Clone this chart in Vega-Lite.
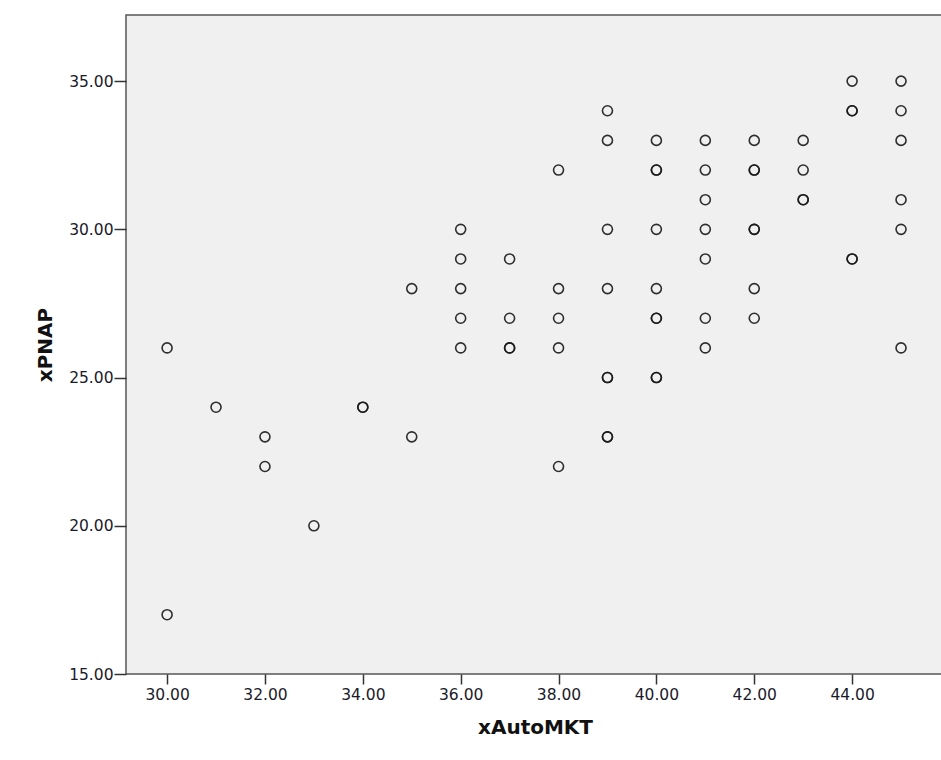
{
  "$schema": "https://vega.github.io/schema/vega-lite/v6.json",
  "autosize": {"type": "none"},
  "width": 818,
  "height": 659,
  "padding": {"left": 126, "top": 15, "right": 0, "bottom": 86},
  "background": "white",
  "config": {
    "view": {"fill": "#f0f0f0", "stroke": "#555555", "strokeWidth": 1.5},
    "font": "DejaVu Sans",
    "axis": {
      "grid": false,
      "domain": false,
      "tickColor": "#333333",
      "tickWidth": 1.5,
      "tickSize": 10,
      "labelFont": "DejaVu Sans",
      "labelFontSize": 15.5,
      "labelColor": "#1a1a2a",
      "titleFont": "DejaVu Sans",
      "titleFontSize": 20,
      "titleFontWeight": "bold",
      "titleColor": "#111111"
    }
  },
  "data": {
    "values": [
      {"xAutoMKT": 30, "xPNAP": 26}, {"xAutoMKT": 30, "xPNAP": 17},
      {"xAutoMKT": 31, "xPNAP": 24},
      {"xAutoMKT": 32, "xPNAP": 23}, {"xAutoMKT": 32, "xPNAP": 22},
      {"xAutoMKT": 33, "xPNAP": 20},
      {"xAutoMKT": 34, "xPNAP": 24}, {"xAutoMKT": 34, "xPNAP": 24},
      {"xAutoMKT": 35, "xPNAP": 28}, {"xAutoMKT": 35, "xPNAP": 23},
      {"xAutoMKT": 36, "xPNAP": 30}, {"xAutoMKT": 36, "xPNAP": 29}, {"xAutoMKT": 36, "xPNAP": 28}, {"xAutoMKT": 36, "xPNAP": 27}, {"xAutoMKT": 36, "xPNAP": 26},
      {"xAutoMKT": 37, "xPNAP": 29}, {"xAutoMKT": 37, "xPNAP": 27}, {"xAutoMKT": 37, "xPNAP": 26}, {"xAutoMKT": 37, "xPNAP": 26},
      {"xAutoMKT": 38, "xPNAP": 32}, {"xAutoMKT": 38, "xPNAP": 28}, {"xAutoMKT": 38, "xPNAP": 27}, {"xAutoMKT": 38, "xPNAP": 26}, {"xAutoMKT": 38, "xPNAP": 22},
      {"xAutoMKT": 39, "xPNAP": 34}, {"xAutoMKT": 39, "xPNAP": 33}, {"xAutoMKT": 39, "xPNAP": 30}, {"xAutoMKT": 39, "xPNAP": 28}, {"xAutoMKT": 39, "xPNAP": 25}, {"xAutoMKT": 39, "xPNAP": 25}, {"xAutoMKT": 39, "xPNAP": 23}, {"xAutoMKT": 39, "xPNAP": 23},
      {"xAutoMKT": 40, "xPNAP": 33}, {"xAutoMKT": 40, "xPNAP": 32}, {"xAutoMKT": 40, "xPNAP": 32}, {"xAutoMKT": 40, "xPNAP": 30}, {"xAutoMKT": 40, "xPNAP": 28}, {"xAutoMKT": 40, "xPNAP": 27}, {"xAutoMKT": 40, "xPNAP": 27}, {"xAutoMKT": 40, "xPNAP": 25}, {"xAutoMKT": 40, "xPNAP": 25},
      {"xAutoMKT": 41, "xPNAP": 33}, {"xAutoMKT": 41, "xPNAP": 32}, {"xAutoMKT": 41, "xPNAP": 31}, {"xAutoMKT": 41, "xPNAP": 30}, {"xAutoMKT": 41, "xPNAP": 29}, {"xAutoMKT": 41, "xPNAP": 27}, {"xAutoMKT": 41, "xPNAP": 26},
      {"xAutoMKT": 42, "xPNAP": 33}, {"xAutoMKT": 42, "xPNAP": 32}, {"xAutoMKT": 42, "xPNAP": 32}, {"xAutoMKT": 42, "xPNAP": 30}, {"xAutoMKT": 42, "xPNAP": 30}, {"xAutoMKT": 42, "xPNAP": 28}, {"xAutoMKT": 42, "xPNAP": 27},
      {"xAutoMKT": 43, "xPNAP": 33}, {"xAutoMKT": 43, "xPNAP": 32}, {"xAutoMKT": 43, "xPNAP": 31}, {"xAutoMKT": 43, "xPNAP": 31},
      {"xAutoMKT": 44, "xPNAP": 35}, {"xAutoMKT": 44, "xPNAP": 34}, {"xAutoMKT": 44, "xPNAP": 34}, {"xAutoMKT": 44, "xPNAP": 29}, {"xAutoMKT": 44, "xPNAP": 29},
      {"xAutoMKT": 45, "xPNAP": 35}, {"xAutoMKT": 45, "xPNAP": 34}, {"xAutoMKT": 45, "xPNAP": 33}, {"xAutoMKT": 45, "xPNAP": 31}, {"xAutoMKT": 45, "xPNAP": 30}, {"xAutoMKT": 45, "xPNAP": 26}
    ]
  },
  "mark": {"type": "point", "shape": "circle", "filled": false, "size": 100, "stroke": "#1a1a1a", "strokeWidth": 1.6, "opacity": 0.9, "clip": true},
  "encoding": {
    "x": {
      "field": "xAutoMKT", "type": "quantitative",
      "scale": {"domain": [29.16, 45.878], "nice": false, "zero": false},
      "axis": {"values": [30, 32, 34, 36, 38, 40, 42, 44], "format": ".2f", "labelPadding": 3, "titlePadding": 15, "title": "xAutoMKT"}
    },
    "y": {
      "field": "xPNAP", "type": "quantitative",
      "scale": {"domain": [15, 37.23], "nice": false, "zero": false},
      "axis": {"values": [15, 20, 25, 30, 35], "format": ".2f", "tickSize": 12, "labelPadding": 1, "titlePadding": 13, "title": "xPNAP"}
    }
  }
}
